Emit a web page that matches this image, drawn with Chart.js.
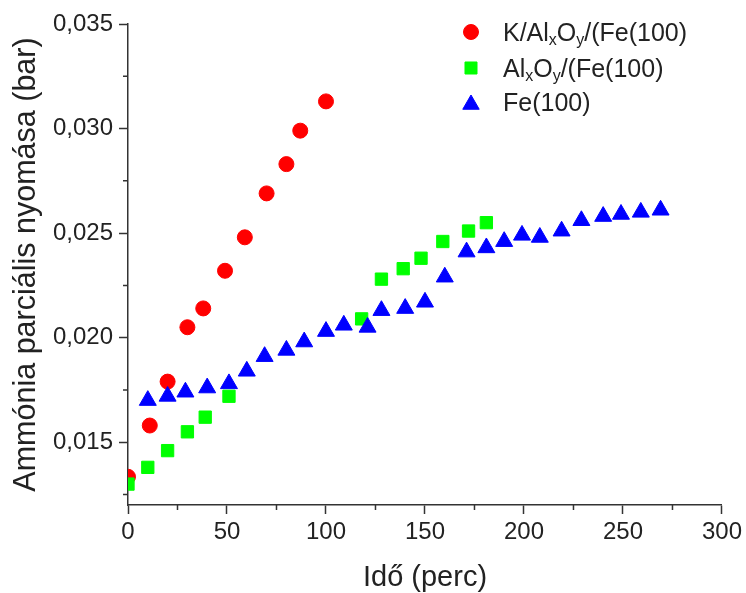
<!DOCTYPE html>
<html>
<head>
<meta charset="utf-8">
<script src="https://cdn.jsdelivr.net/npm/chart.js@4.4.0/dist/chart.umd.min.js"></script>
<style>
  html, body { margin: 0; padding: 0; background: #fff; }
</style>
</head>
<body>
<canvas id="chart" width="746" height="593"></canvas>
<script>
// K/AlxOy/(Fe(100)
const kAlTime = [0, 11, 20, 30, 38, 49, 59, 70, 80, 87, 100];
const kAlPressure = [0.01335, 0.0158, 0.0179, 0.0205, 0.0214, 0.0232, 0.0248, 0.0269, 0.0283, 0.0299, 0.0313];

// AlxOy/(Fe(100)
const alTime = [0, 10, 20, 30, 39, 51, 118, 128, 139, 148, 159, 172, 181];
const alPressure = [0.0130, 0.0138, 0.0146, 0.0155, 0.0162, 0.0172, 0.0209, 0.0228, 0.0233, 0.0238, 0.0246, 0.0251, 0.0255];

// Fe(100)
const feTime = [10, 20, 29, 40, 51, 60, 69, 80, 89, 100, 109, 121, 128, 140, 150, 160, 171, 181, 190, 199, 208, 219, 229, 240, 249, 259, 269];
const fePressure = [0.0170, 0.0172, 0.0174, 0.0176, 0.0178, 0.0184, 0.0191, 0.0194, 0.0198, 0.0203, 0.0206, 0.0205, 0.0213, 0.0214, 0.0217, 0.0229, 0.0241, 0.0243, 0.0246, 0.0249, 0.0248, 0.0251, 0.0256, 0.0258, 0.0259, 0.0260, 0.0261];

const xTicks = [0, 50, 100, 150, 200, 250, 300];
const xMinorTicks = [25, 75, 125, 175, 225, 275];
const yTicks = [0.015, 0.020, 0.025, 0.030, 0.035];
const yMinorTicks = [0.0125, 0.0175, 0.0225, 0.0275, 0.0325];

// legend labels, split into normal / subscript pieces
const legendLabels = [
  [['K/Al'], ['x', 1], ['O'], ['y', 1], ['/(Fe(100)']],
  [['Al'], ['x', 1], ['O'], ['y', 1], ['/(Fe(100)']],
  [['Fe(100)']]
];

const toPoints = (xs, ys) => xs.map((x, i) => ({ x: x, y: ys[i] }));

const ink = '#222';
const axisColor = '#333';
const family = '"Liberation Sans", Arial, sans-serif';

const datasets = [
  { label: 'K/AlxOy/(Fe(100)', data: toPoints(kAlTime, kAlPressure), pointStyle: 'circle', pointRadius: 7.5,
    backgroundColor: '#ff0000', borderColor: '#ff0000', order: 3 },
  { label: 'AlxOy/(Fe(100)', data: toPoints(alTime, alPressure), pointStyle: 'rect', pointRadius: 8.7,
    backgroundColor: '#00ff00', borderColor: '#00ff00', order: 2 },
  { label: 'Fe(100)', data: toPoints(feTime, fePressure), pointStyle: 'triangle', pointRadius: 9.8,
    backgroundColor: '#0000ff', borderColor: '#0000ff', order: 1 }
];
datasets.forEach(d => {
  d.showLine = false;
  d.pointBorderWidth = 1;
  d.pointHoverRadius = d.pointRadius;
  d.clip = 0;
});

// short minor ticks on both axes
const minorTicks = {
  id: 'minorTicks',
  afterDraw(chart) {
    const ctx = chart.ctx;
    const xs = chart.scales.x, ys = chart.scales.y;
    ctx.save();
    ctx.strokeStyle = axisColor;
    ctx.lineWidth = 1.5;
    ctx.beginPath();
    xMinorTicks.forEach(v => {
      const px = xs.getPixelForValue(v);
      ctx.moveTo(px, xs.top);
      ctx.lineTo(px, xs.top + 5);
    });
    yMinorTicks.forEach(v => {
      const py = ys.getPixelForValue(v);
      ctx.moveTo(ys.right, py);
      ctx.lineTo(ys.right - 5, py);
    });
    ctx.stroke();
    ctx.restore();
  }
};

// legend with subscripts
const subLegend = {
  id: 'subLegend',
  afterDraw(chart) {
    const ctx = chart.ctx;
    const markerX = 471, textX = 503;
    const rowY = [32, 68, 102];
    ctx.save();
    chart.data.datasets.forEach((ds, i) => {
      const y = rowY[i];
      ctx.fillStyle = ds.backgroundColor;
      ctx.strokeStyle = ds.borderColor;
      ctx.lineWidth = 1;
      let r = ds.pointStyle === 'triangle' ? 9.5 : ds.pointStyle === 'rect' ? 8.5 : 7.5;
      let py = ds.pointStyle === 'triangle' ? y + 2.5 : y;
      Chart.helpers.drawPoint(ctx, { pointStyle: ds.pointStyle, radius: r, borderWidth: 1, rotation: 0 }, markerX, py);
      let x = textX;
      ctx.fillStyle = ink;
      ctx.textBaseline = 'alphabetic';
      ctx.textAlign = 'left';
      legendLabels[i].forEach(([t, sub]) => {
        ctx.font = (sub ? '16px ' : '25px ') + family;
        ctx.fillText(t, x, y + 9 + (sub ? 4 : 0));
        x += ctx.measureText(t).width;
      });
    });
    ctx.restore();
  }
};

const ctx = document.getElementById('chart').getContext('2d');
const chart = new Chart(ctx, {
  type: 'scatter',
  data: { datasets: datasets },
  options: {
    responsive: false,
    animation: false,
    devicePixelRatio: 1,
    layout: { padding: { left: 0, right: 24, top: 24, bottom: 0 } },
    plugins: { legend: { display: false }, tooltip: { enabled: false } },
    scales: {
      x: {
        type: 'linear',
        min: 0,
        max: 300,
        afterBuildTicks: s => { s.ticks = xTicks.map(v => ({ value: v })); },
        afterFit: s => { s.height = 88; },
        grid: { drawOnChartArea: false, drawTicks: true, tickLength: 9, tickColor: axisColor, tickWidth: 1.5 },
        border: { color: axisColor, width: 1.5 },
        ticks: { color: ink, font: { family: family, size: 24 }, padding: 4, maxRotation: 0,
          callback: v => String(v) },
        title: { display: true, text: 'Idő (perc)', color: ink,
          font: { family: family, size: 29, lineHeight: 1 }, padding: { top: 0, bottom: 1 } }
      },
      y: {
        type: 'linear',
        min: 0.012,
        max: 0.035,
        afterBuildTicks: s => { s.ticks = yTicks.map(v => ({ value: v })); },
        afterFit: s => { s.width = 128; },
        grid: { drawOnChartArea: false, drawTicks: true, tickLength: 9, tickColor: axisColor, tickWidth: 1.5 },
        border: { color: axisColor, width: 1.5 },
        ticks: { color: ink, font: { family: family, size: 24 }, padding: 6,
          callback: v => v.toFixed(3).replace('.', ',') },
        title: { display: true, text: 'Ammónia parciális nyomása (bar)', color: ink,
          font: { family: family, size: 30.5, lineHeight: 1 }, padding: { top: 11, bottom: 0 } }
      }
    }
  },
  plugins: [minorTicks, subLegend]
});
</script>
</body>
</html>
